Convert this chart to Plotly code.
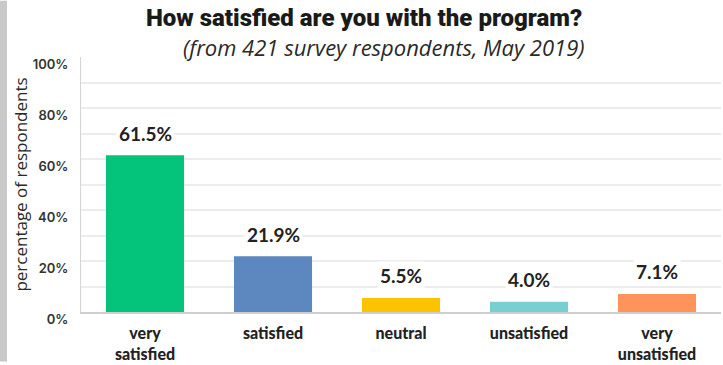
import plotly.graph_objects as go

# Survey results
categories = ["very<br>satisfied", "satisfied", "neutral", "unsatisfied", "very<br>unsatisfied"]
shares = [61.5, 21.9, 5.5, 4.0, 7.1]
bar_colors = ["#03C47A", "#5C87BF", "#FDC300", "#77CFD4", "#FF945A"]
tick_vals = [0, 20, 40, 60, 80, 100]
tick_text = ["0%", "20%", "40%", "60%", "80%", "100%"]
grid_vals = [10, 20, 30, 40, 50, 60, 70, 80, 90]

fig = go.Figure()
fig.add_trace(go.Bar(
    x=categories,
    y=shares,
    marker=dict(color=bar_colors, line=dict(width=0)),
    hoverinfo="skip",
))

# value labels on a white box so they break the gridlines
for cat, val in zip(categories, shares):
    fig.add_annotation(
        x=cat, y=val, text=f"<b>{val:.1f}%</b>",
        showarrow=False, yanchor="middle", yshift=22,
        bgcolor="white", borderpad=2,
        font=dict(family="Lato, sans-serif", size=19, color="#222222", weight=900),
    )

fig.add_annotation(
    xref="paper", yref="paper", x=(364 - 81) / 640, y=1 + (57 - 18) / 258,
    text="How satisfied are you with the program?", showarrow=False,
    xanchor="center", yanchor="middle",
    font=dict(family="Roboto, sans-serif", size=24, color="#1a1a1a", weight=900),
)
fig.add_annotation(
    xref="paper", yref="paper", x=(384 - 81) / 640, y=1 + (57 - 47) / 258,
    text="<i>(from 421 survey respondents, May 2019)</i>", showarrow=False,
    xanchor="center", yanchor="middle",
    font=dict(family="Open Sans, sans-serif", size=22, color="#2a2a2a", weight=400),
)

# grey strip along the left edge of the page
fig.add_shape(
    type="rect", xref="paper", yref="paper",
    x0=-81 / 640, x1=-74 / 640, y0=-50 / 258, y1=1 + 57 / 258,
    fillcolor="#C9C9C9", line=dict(width=0), layer="below",
)

fig.update_layout(
    width=723, height=365,
    margin=dict(l=81, r=2, t=57, b=50),
    paper_bgcolor="white", plot_bgcolor="white",
    bargap=0.39,
    showlegend=False,
    xaxis=dict(
        showgrid=False, showline=True, linecolor="#CFCFCF", linewidth=1.5,
        ticks="", ticklabelstandoff=6,
        tickfont=dict(family="Lato, sans-serif", size=16, color="#222222", weight=900),
    ),
    yaxis=dict(
        range=[0, 100], showgrid=False, zeroline=False,
        showline=True, linecolor="#D5D5D5", linewidth=1,
        tickvals=tick_vals, ticktext=tick_text, ticks="",
        ticklabelshift=7, ticklabelstandoff=9,
        tickfont=dict(family="Inter, sans-serif", size=13, color="#333333", weight=600),
        minor=dict(tickvals=grid_vals, showgrid=True, gridcolor="#ECECEC", gridwidth=1.5, ticks=""),
        title=dict(text="percentage of respondents", standoff=0,
                   font=dict(family="Open Sans, sans-serif", size=17, color="#2a2a2a", weight=400)),
    ),
)

fig.write_html("out.html")
